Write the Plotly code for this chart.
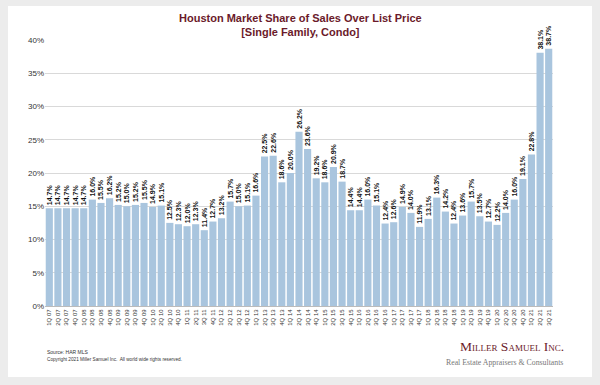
import plotly.graph_objects as go

quarters = []
for y in range(7, 22):
    for q in range(1, 5):
        if y == 21 and q == 4:
            break
        quarters.append(f"{q}Q {y:02d}")

share = [14.7, 14.7, 14.7, 14.7, 14.7, 16.0, 15.5, 16.2, 15.2, 15.0,
         15.2, 15.5, 14.9, 15.1, 12.5, 12.3, 12.0, 12.3, 11.4, 12.7,
         13.2, 15.7, 15.0, 15.1, 16.6, 22.5, 22.6, 18.6, 20.0, 26.2,
         23.6, 19.2, 18.6, 20.9, 18.7, 14.4, 14.4, 16.0, 15.1, 12.4,
         12.6, 14.9, 14.0, 11.9, 13.1, 16.3, 14.2, 12.4, 13.6, 15.7,
         13.5, 12.7, 12.2, 14.0, 16.0, 19.1, 22.8, 38.1, 38.7]

y_ticks = [0, 5, 10, 15, 20, 25, 30, 35, 40]
y_tick_labels = [f"{v}%" for v in y_ticks]

W, H = 600, 385
L, R, T, B = 45, 47, 40, 79
PW, PH = W - L - R, H - T - B


def px(x):
    return (x - L) / PW


def py(y):
    return (H - B - y) / PH


fig = go.Figure()
fig.add_trace(go.Bar(
    x=quarters, y=share,
    marker=dict(color="#a9c5de", line=dict(width=0)),
    text=[f"{v:.1f}%" for v in share],
    textposition="outside",
    textangle=-90,
    textfont=dict(family="Arial, Liberation Sans", size=7, color="#111111", weight="bold"),
    cliponaxis=False,
    constraintext="none",
    hoverinfo="skip",
))

fig.update_layout(
    width=W, height=H,
    paper_bgcolor="#ececec",
    plot_bgcolor="white",
    margin=dict(l=L, r=R, t=T, b=B),
    bargap=0.17,
    showlegend=False,
    font=dict(family="Arial, Liberation Sans"),
    shapes=[dict(type="rect", xref="paper", yref="paper",
                 x0=px(8), x1=px(592), y0=py(377), y1=py(6),
                 fillcolor="white", line=dict(width=0), layer="below")],
    annotations=[
        dict(text="<b>Houston Market Share of Sales Over List Price</b><br><b>[Single Family, Condo]</b>",
             xref="paper", yref="paper", x=px(300), y=py(10), xanchor="center", yanchor="top",
             showarrow=False, font=dict(size=11, color="#6b1a2a"), align="center"),
        dict(text="Source: HAR MLS", xref="paper", yref="paper", x=px(45), y=py(352),
             xanchor="left", yanchor="middle", showarrow=False,
             font=dict(size=5, color="#333333")),
        dict(text="Copyright 2021 Miller Samuel Inc.  All world wide rights reserved.",
             xref="paper", yref="paper", x=px(45), y=py(359),
             xanchor="left", yanchor="middle", showarrow=False,
             font=dict(size=4.7, color="#333333")),
        dict(text="Miller Samuel Inc.", xref="paper", yref="paper", x=px(566), y=py(346),
             xanchor="right", yanchor="middle", showarrow=False,
             font=dict(family="Liberation Serif, DejaVu Serif, serif", size=13.5, color="#6b1a2a",
                       variant="small-caps")),
        dict(text="Real Estate Appraisers &amp; Consultants", xref="paper", yref="paper", x=px(565), y=py(362),
             xanchor="right", yanchor="middle", showarrow=False,
             font=dict(family="Liberation Serif, DejaVu Serif, serif", size=7.8, color="#777777")),
    ],
)

fig.update_xaxes(
    type="category",
    tickangle=-90,
    tickfont=dict(size=6, color="#333333"),
    showline=True, linecolor="#bbbbbb", linewidth=1,
    ticks="", showgrid=False,
)
fig.update_yaxes(
    range=[0, 40],
    tickvals=y_ticks, ticktext=y_tick_labels,
    tickfont=dict(size=8, color="#333333"),
    showgrid=True, gridcolor="#d9d9d9", gridwidth=1,
    zeroline=False, showline=False, ticks="",
)

fig.write_html("out.html",
               config={"displayModeBar": False},
               post_script="document.body.style.margin='0';document.body.style.padding='0';")
